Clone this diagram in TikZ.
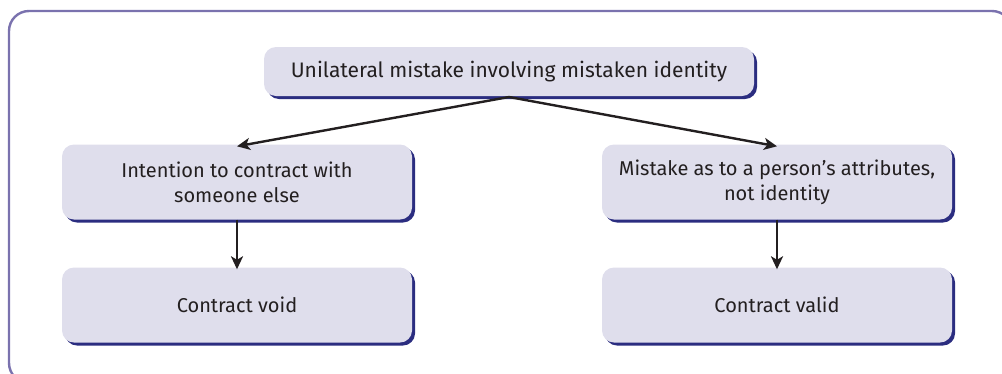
\documentclass[tikz,border=0pt]{standalone}
\usepackage{fontspec}
\setmainfont{Fira Sans}
\usetikzlibrary{arrows.meta,shadows}
\definecolor{boxfill}{HTML}{DFDEEC}
\definecolor{boxshadow}{HTML}{2B2D80}
\definecolor{framecol}{HTML}{7A72AE}
\definecolor{txt}{HTML}{231F20}
\tikzset{
  x=1pt,y=-1pt,
  box/.style={draw=none,fill=boxfill,rounded corners=12pt,align=center,
    text=txt,font=\fontsize{20}{25}\selectfont,inner sep=0pt,
    minimum width=350pt,minimum height=75pt,
    copy shadow={shadow xshift=3pt,shadow yshift=-3pt,fill=boxshadow,draw=none,opacity=1}},
  conn/.style={draw=txt,line width=2.4pt,-{Stealth[length=13pt,width=12pt,inset=3.5pt]}}
}
\begin{document}
\begin{tikzpicture}
\useasboundingbox (0,0) rectangle (1002,373);
\draw[framecol,line width=2.4pt,rounded corners=20pt] (9,11) rectangle (1012,383);
\node[box,minimum width=490pt,minimum height=49pt,font=\fontsize{21}{26}\selectfont] (top) at (509,71.5) {Unilateral mistake involving mistaken identity};
\node[box] (l1) at (237,182) {Intention to contract with\\someone else};
\node[box] (r1) at (777,182) {Mistake as to a person’s attributes,\\not identity};
\node[box] (l2) at (237,305) {Contract void};
\node[box] (r2) at (777,305) {Contract valid};
\coordinate (s) at (509,97);
\draw[conn] (s) -- ([yshift=-2pt]l1.north);
\draw[conn] (s) -- ([yshift=-2pt]r1.north);
\draw[conn] (l1.south) -- ([yshift=-2pt]l2.north);
\draw[conn] (r1.south) -- ([yshift=-2pt]r2.north);
\end{tikzpicture}
\end{document}
